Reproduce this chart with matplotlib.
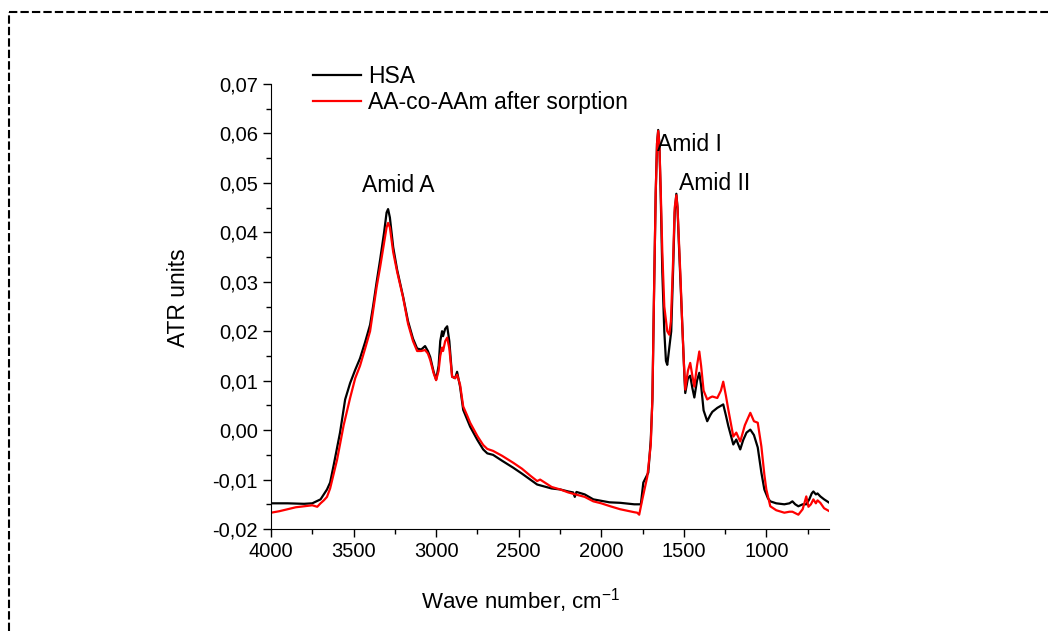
"""ATR spectra: HSA vs AA-co-AAm after sorption."""
import matplotlib
matplotlib.use("Agg")
import matplotlib.pyplot as plt
from matplotlib.lines import Line2D
from matplotlib.ticker import MultipleLocator, FuncFormatter

plt.rcParams["font.family"] = ["Liberation Sans", "DejaVu Sans"]
plt.rcParams["mathtext.fontset"] = "custom"
plt.rcParams["mathtext.rm"] = "Liberation Sans"

# HSA (black)
hsa_wn = [4000, 3900, 3800, 3750, 3700, 3661, 3642, 3620, 3582, 3551, 3521, 3490, 3461,
          3430, 3400, 3382, 3360, 3339, 3315, 3300, 3291, 3280, 3260, 3236, 3200, 3170,
          3140, 3115, 3090, 3067, 3050, 3036, 3015, 3000, 2985, 2975, 2964, 2958, 2945,
          2933, 2920, 2903, 2885, 2873, 2855, 2836, 2810, 2794, 2750, 2715, 2690, 2655,
          2600, 2533, 2480, 2430, 2388, 2300, 2248, 2200, 2170, 2160, 2150, 2100, 2048,
          2000, 1950, 1885, 1800, 1770, 1760, 1745, 1715, 1700, 1690, 1680, 1670, 1662,
          1655, 1648, 1640, 1630, 1618, 1608, 1600, 1590, 1576, 1565, 1555, 1545, 1538,
          1530, 1520, 1510, 1503, 1495, 1491, 1475, 1461, 1448, 1436, 1420, 1406, 1395,
          1380, 1358, 1340, 1327, 1297, 1261, 1245, 1230, 1200, 1182, 1158, 1140, 1120,
          1097, 1075, 1052, 1030, 1012, 990, 976, 940, 891, 860, 842, 825, 806, 780, 758,
          740, 725, 715, 700, 690, 673, 650, 618]
hsa_val = [-0.0148, -0.0148, -0.0149, -0.0148, -0.0140, -0.0120, -0.0106, -0.0070, -0.0005,
           0.0062, 0.0095, 0.0122, 0.0145, 0.0178, 0.0213, 0.0250, 0.0300, 0.0345, 0.0400,
           0.0440, 0.0447, 0.0430, 0.0370, 0.0324, 0.0270, 0.0220, 0.0185, 0.0165, 0.0163,
           0.0170, 0.0160, 0.0148, 0.0118, 0.0102, 0.0130, 0.0180, 0.0200, 0.0190, 0.0205,
           0.0210, 0.0180, 0.0108, 0.0105, 0.0118, 0.0088, 0.0041, 0.0020, 0.0007, -0.0020,
           -0.0039, -0.0047, -0.0050, -0.0062, -0.0076, -0.0088, -0.0100, -0.0110, -0.0118,
           -0.0120, -0.0124, -0.0126, -0.0135, -0.0125, -0.0130, -0.0140, -0.0143, -0.0146,
           -0.0147, -0.0150, -0.0150, -0.0150, -0.0106, -0.0086, -0.0020, 0.0062, 0.0280,
           0.0480, 0.0580, 0.0607, 0.0580, 0.0480, 0.0320, 0.0200, 0.0140, 0.0132, 0.0160,
           0.0200, 0.0320, 0.0440, 0.0478, 0.0450, 0.0380, 0.0300, 0.0220, 0.0160, 0.0100,
           0.0075, 0.0105, 0.0110, 0.0085, 0.0066, 0.0100, 0.0116, 0.0090, 0.0040, 0.0018,
           0.0030, 0.0037, 0.0045, 0.0052, 0.0030, 0.0008, -0.0029, -0.0019, -0.0039, -0.0020,
           -0.0005, 0.0001, -0.0010, -0.0035, -0.0086, -0.0120, -0.0138, -0.0144, -0.0148,
           -0.0150, -0.0148, -0.0144, -0.0150, -0.0154, -0.0150, -0.0150, -0.0140, -0.0128,
           -0.0124, -0.0130, -0.0128, -0.0134, -0.0140, -0.0147]

# AA-co-AAm after sorption (red)
aa_wn = [4000, 3950, 3900, 3850, 3800, 3750, 3720, 3700, 3680, 3661, 3642, 3600, 3560,
         3521, 3490, 3461, 3430, 3400, 3382, 3360, 3339, 3315, 3300, 3291, 3280, 3260,
         3236, 3200, 3170, 3140, 3115, 3090, 3067, 3050, 3036, 3015, 3000, 2985, 2975,
         2964, 2958, 2945, 2933, 2920, 2903, 2885, 2873, 2855, 2836, 2810, 2794, 2750,
         2715, 2690, 2655, 2600, 2533, 2480, 2430, 2388, 2370, 2300, 2248, 2200, 2100,
         2048, 2000, 1945, 1885, 1800, 1782, 1770, 1751, 1721, 1700, 1690, 1680, 1670,
         1662, 1655, 1648, 1640, 1630, 1618, 1600, 1588, 1578, 1565, 1555, 1545, 1538,
         1530, 1520, 1510, 1500, 1491, 1475, 1461, 1448, 1436, 1420, 1406, 1395, 1380,
         1358, 1340, 1327, 1297, 1275, 1261, 1245, 1230, 1200, 1182, 1158, 1130, 1097,
         1075, 1052, 1030, 1012, 1000, 976, 940, 891, 860, 842, 806, 780, 758, 745, 730,
         715, 700, 690, 673, 650, 618]
aa_val = [-0.0167, -0.0164, -0.0160, -0.0156, -0.0154, -0.0152, -0.0155, -0.0148, -0.0142,
          -0.0135, -0.0118, -0.0060, 0.0010, 0.0065, 0.0105, 0.0130, 0.0165, 0.0200, 0.0240,
          0.0290, 0.0330, 0.0380, 0.0410, 0.0419, 0.0410, 0.0360, 0.0320, 0.0268, 0.0215,
          0.0180, 0.0160, 0.0160, 0.0162, 0.0155, 0.0142, 0.0115, 0.0101, 0.0120, 0.0150,
          0.0167, 0.0160, 0.0180, 0.0187, 0.0165, 0.0108, 0.0105, 0.0112, 0.0092, 0.0048,
          0.0028, 0.0015, -0.0012, -0.0030, -0.0038, -0.0042, -0.0052, -0.0066, -0.0078,
          -0.0092, -0.0103, -0.0100, -0.0115, -0.0120, -0.0126, -0.0135, -0.0144, -0.0148,
          -0.0154, -0.0160, -0.0166, -0.0167, -0.0171, -0.0140, -0.0094, -0.0030, 0.0065,
          0.0280, 0.0480, 0.0580, 0.0605, 0.0580, 0.0490, 0.0360, 0.0250, 0.0200, 0.0193,
          0.0220, 0.0340, 0.0450, 0.0475, 0.0450, 0.0390, 0.0310, 0.0220, 0.0140, 0.0082,
          0.0120, 0.0136, 0.0110, 0.0088, 0.0130, 0.0159, 0.0130, 0.0080, 0.0062, 0.0066,
          0.0068, 0.0065, 0.0080, 0.0098, 0.0070, 0.0041, -0.0013, -0.0005, -0.0023, 0.0010,
          0.0035, 0.0018, 0.0015, -0.0033, -0.0090, -0.0120, -0.0154, -0.0162, -0.0167,
          -0.0165, -0.0165, -0.0171, -0.0160, -0.0134, -0.0155, -0.0150, -0.0140, -0.0148,
          -0.0142, -0.0147, -0.0158, -0.0164]

peak_labels = ["Amid A", "Amid I", "Amid II"]
peak_pos = [(3230, 0.0495, "center"), (1661, 0.0578, "left"), (1527, 0.0499, "left")]

fig = plt.figure(figsize=(10.48, 6.31), dpi=100)
ax = fig.add_axes([0.2586, 0.1616, 0.5325, 0.7053])

ax.plot(hsa_wn, hsa_val, color="black", lw=1.6, label="HSA")
ax.plot(aa_wn, aa_val, color="#ff0000", lw=1.6, label="AA-co-AAm after sorption")

ax.set_xlim(4000, 620)
ax.set_ylim(-0.02, 0.07)
ax.xaxis.set_major_locator(MultipleLocator(500))
ax.xaxis.set_minor_locator(MultipleLocator(250))
ax.yaxis.set_major_locator(MultipleLocator(0.01))
ax.yaxis.set_minor_locator(MultipleLocator(0.005))
ax.yaxis.set_major_formatter(FuncFormatter(lambda v, p: f"{v:.2f}".replace(".", ",").replace("-0,00", "0,00")))
ax.tick_params(which="major", direction="out", length=6, width=1, labelsize=14.5)
ax.tick_params(which="minor", direction="out", length=3.5, width=1)
for s in ("top", "right"):
    ax.spines[s].set_visible(False)

ax.set_xlabel("Wave number, cm$^{-1}$", fontsize=16)
ax.set_ylabel("ATR units", fontsize=16.5)
ax.xaxis.set_label_coords(0.448, -0.128)
ax.yaxis.set_label_coords(-0.145, 0.519)

for lab, (x, y, ha) in zip(peak_labels, peak_pos):
    ax.text(x, y, lab, fontsize=16.5, ha=ha, va="center")

fig.legend(loc="upper left", bbox_to_anchor=(0.290, 0.912), frameon=False, fontsize=16.5,
           handlelength=2.1, handletextpad=0.3, labelspacing=0.15, borderaxespad=0)

# dashed frame around figure (top and left edges visible)
fig.add_artist(Line2D([9 / 1048, 1.0], [1 - 12 / 631, 1 - 12 / 631], transform=fig.transFigure,
                      color="black", lw=1.5, ls=(0, (4, 1.5))))
fig.add_artist(Line2D([9 / 1048, 9 / 1048], [0, 1 - 12 / 631], transform=fig.transFigure,
                      color="black", lw=1.5, ls=(0, (4, 1.5))))

fig.savefig("out.png", dpi=100)
